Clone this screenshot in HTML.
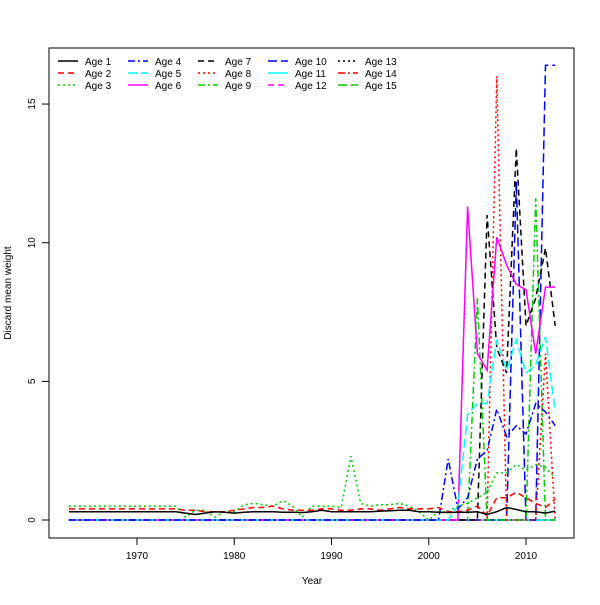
<!DOCTYPE html>
<html><head><meta charset="utf-8"><style>body{margin:0;background:#fff}text{font-family:"Liberation Sans",sans-serif;font-size:10px}</style></head>
<body>
<svg id="c" width="600" height="600"></svg>
<script>
const years=[];for(let y=1963;y<=2013;y++)years.push(y);
const age1=[0.3,0.3,0.3,0.3,0.3,0.3,0.3,0.3,0.3,0.3,0.3,0.3,0.25,0.2,0.25,0.3,0.28,0.25,0.28,0.3,0.3,0.3,0.28,0.28,0.27,0.3,0.35,0.3,0.3,0.3,0.3,0.3,0.32,0.33,0.35,0.35,0.3,0.3,0.28,0.27,0.28,0.28,0.3,0.2,0.3,0.45,0.38,0.3,0.3,0.25,0.32];
const age2=[0.4,0.4,0.4,0.4,0.4,0.4,0.4,0.4,0.4,0.4,0.4,0.4,0.35,0.35,0.3,0.3,0.3,0.35,0.4,0.45,0.45,0.5,0.4,0.35,0.35,0.35,0.4,0.4,0.35,0.35,0.4,0.4,0.35,0.4,0.45,0.4,0.4,0.4,0.45,0.3,0.3,0.35,0.5,0.15,0.8,0.8,1.0,0.8,0.6,0.45,0.75];
const age3=[0.5,0.5,0.5,0.5,0.5,0.5,0.5,0.5,0.5,0.5,0.5,0.5,0.1,0.35,0.35,0.1,0.3,0.3,0.55,0.6,0.55,0.5,0.7,0.5,0.1,0.5,0.5,0.5,0.45,2.3,0.6,0.5,0.55,0.55,0.6,0.5,0.3,0.0,0.3,0.3,0.5,0.6,0.8,1.0,1.7,1.7,2.0,1.8,2.0,1.9,1.5];
const z=n=>Array(n).fill(0);
const age4=z(39).concat([2.2,0.4,0.8,2.2,2.5,4.0,3.0,3.4,3.1,4.2,3.9,3.4]);
const age5=z(40).concat([0.5,3.8,4.2,4.2,6.5,5.4,6.5,5.3,5.6,6.6,3.9]);
const age6=z(40).concat([0,11.3,6.0,5.4,10.2,9.2,8.5,8.3,6.0,8.4,8.4]);
const age7=z(42).concat([0,11.0,6.2,5.3,13.4,7.0,8.0,9.8,7.0]);
const age8=z(43).concat([0,16.0,0,0,0,0,6.0,0]);
const age9=z(41).concat([0,8.0,0,0,0,0,0,11.6,0,0]);
const age10=z(45).concat([0,12.2,0,0,16.4,16.4]);
const age11=z(51),age12=z(51),age13=z(51),age14=z(51),age15=z(51);
const series=[age1,age2,age3,age4,age5,age6,age7,age8,age9,age10,age11,age12,age13,age14,age15];
const cols=["#000","#f00","#00cd00","#00f","#0ff","#f0f","#000","#f00","#00cd00","#00f","#0ff","#f0f","#000","#f00","#00cd00"];
const dash=["","6,4","2,3","7,3,2,3","9,4","","6,4","2,3","7,3,2,3","9,4","","6,4","2,3","7,3,2,3","9,4"];
const xTicks=[1970,1980,1990,2000,2010],yTicks=[0,5,10,15];
const X=v=>137+(v-1970)*9.725,Y=v=>520-v*27.73;
const s=document.getElementById('c'),NS="http://www.w3.org/2000/svg";
function mk(t,a,p){const e=document.createElementNS(NS,t);for(const k in a)e.setAttribute(k,a[k]);(p||s).appendChild(e);return e;}
let e=mk('rect',{x:49,y:48,width:525,height:490,fill:'none',stroke:'#000'});


xTicks.forEach(t=>{mk('line',{x1:X(t),x2:X(t),y1:538,y2:545,stroke:'#000'});
e=mk('text',{x:X(t),y:559,'text-anchor':'middle'});e.textContent=t;

});
yTicks.forEach(t=>{mk('line',{x1:42,x2:49,y1:Y(t),y2:Y(t),stroke:'#000'});
e=mk('text',{x:35,y:Y(t),'text-anchor':'middle',transform:`rotate(-90 35 ${Y(t)})`});e.textContent=t;

});
e=mk('text',{x:312,y:584,'text-anchor':'middle'});e.textContent='Year';


e=mk('text',{x:11,y:293,'text-anchor':'middle',transform:'rotate(-90 11 293)'});e.textContent='Discard mean weight';


for(let i=series.length-1;i>=0;i--){
 const d=series[i].map((v,j)=>(j?'L':'M')+X(years[j]).toFixed(1)+','+Y(v).toFixed(1)).join('');
 e=mk('path',{d:d,fill:'none',stroke:cols[i],'stroke-width':1.5,'stroke-dasharray':dash[i]});
 
 
}
for(let i=0;i<15;i++){
 const cx=58+Math.floor(i/3)*70,cy=61+(i%3)*12;
 mk('line',{x1:cx,x2:cx+20,y1:cy,y2:cy,stroke:cols[i],'stroke-width':1.5,'stroke-dasharray':dash[i]});
 e=mk('text',{x:cx+27,y:cy+4});e.textContent='Age '+(i+1);
 
 
}
</script>
</body></html>
